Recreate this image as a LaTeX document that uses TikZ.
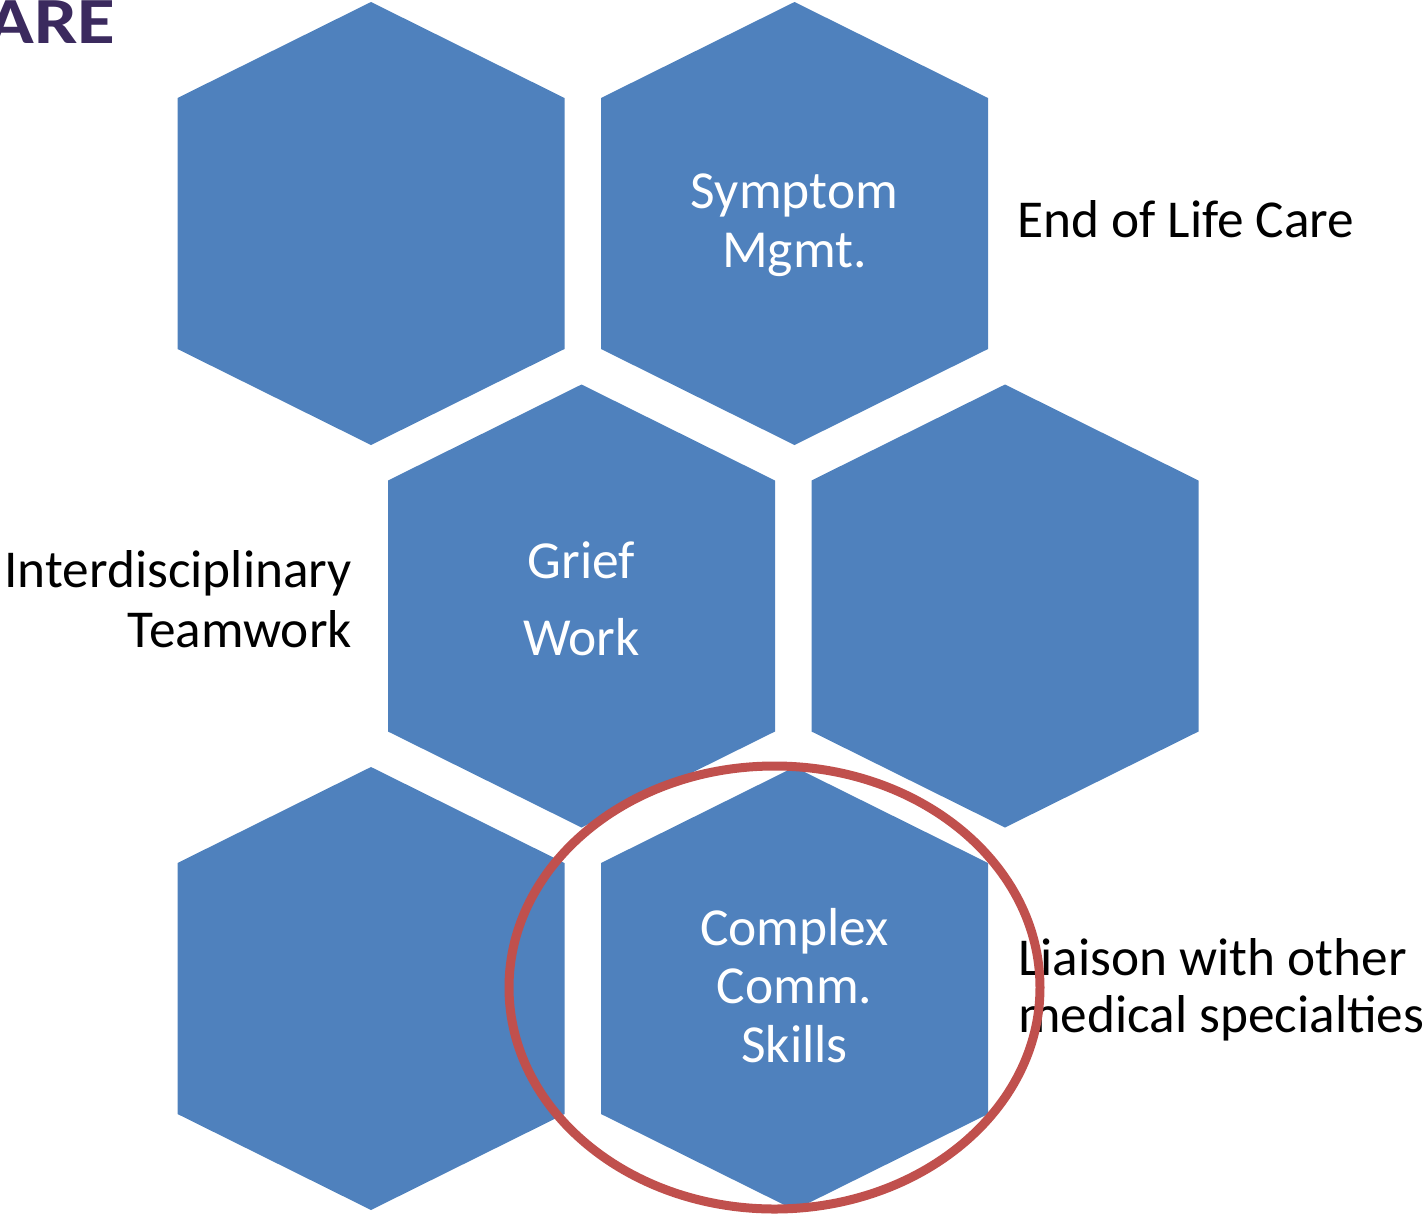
\documentclass[tikz,border=0pt]{standalone}
\usepackage{fontspec}
\setmainfont{Carlito}
\definecolor{hexblue}{HTML}{4F81BD}
\definecolor{ringred}{HTML}{C0504D}
\definecolor{titlepurple}{HTML}{3B2A5E}
\tikzset{
  hexfill/.style={fill=hexblue,draw=none},
  intext/.style={text=white,inner sep=0pt,anchor=base,font=\fontsize{53.5}{60}\selectfont},
  outtext/.style={text=black,inner sep=0pt,font=\fontsize{53.3}{60}\selectfont},
  ring/.style={draw=ringred,line width=9pt},
}
\newcommand\hexat[1]{%
  \fill[hexfill] ($(#1)+(0,-221.5)$) -- ($(#1)+(193.5,-125.5)$) -- ($(#1)+(193.5,125.5)$)
    -- ($(#1)+(0,221.5)$) -- ($(#1)+(-193.5,125.5)$) -- ($(#1)+(-193.5,-125.5)$) -- cycle;}
\usetikzlibrary{calc}
\begin{document}
\begin{tikzpicture}[x=1pt,y=-1pt]
\useasboundingbox (0,0) rectangle (1427,1213);
\clip (0,0) rectangle (1427,1213);
% hexagon centres
\coordinate (h1) at (371,223.5);
\coordinate (h2) at (794.5,223.5);
\coordinate (h3) at (581.5,606);
\coordinate (h4) at (1005,606);
\coordinate (h5) at (371,988.5);
\coordinate (h6) at (794.5,988.5);
\hexat{h1}\hexat{h2}\hexat{h3}\hexat{h4}\hexat{h5}\hexat{h6}
% title fragment
\node[inner sep=0pt,anchor=base west,text=titlepurple,xscale=1.17,font=\fontsize{66}{70}\selectfont\bfseries] (title) at (-13,43) {ARE};
% texts inside hexagons
\node[intext] (sym1) at (794.5,208) {Symptom};
\node[intext] (sym2) at (794.5,267) {Mgmt.};
\node[intext] (grief1) at (581.5,578) {Grief};
\node[intext] (grief2) at (581.5,655) {Work};
\node[intext] (comp1) at (794.5,945) {Complex};
\node[intext] (comp2) at (794.5,1003) {Comm.};
\node[intext] (comp3) at (794.5,1062) {Skills};
% outside labels
\node[outtext,anchor=base west] (eol) at (1017,237) {End of Life Care};
\node[outtext,anchor=base east] (inter1) at (352,587) {Interdisciplinary};
\node[outtext,anchor=base east] (inter2) at (352,647) {Teamwork};
\node[outtext,anchor=base west] (liai1) at (1018,975) {Liaison with other};
\node[outtext,anchor=base west] (liai2) at (1018,1032) {medical specialties};
% red ring
\draw[ring] (774.5,987.5) ellipse [x radius=265.5,y radius=221.5];
\end{tikzpicture}
\end{document}
